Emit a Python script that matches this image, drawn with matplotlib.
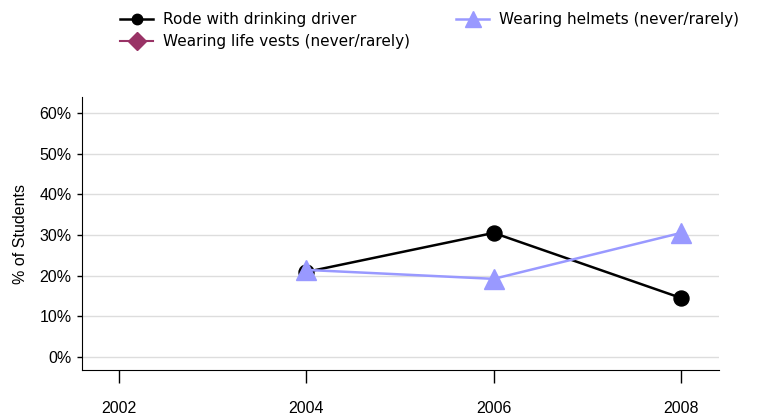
import matplotlib
matplotlib.use("Agg")
import matplotlib.pyplot as plt
import numpy as np

years = [2002, 2004, 2006, 2008]
rode_drinking = [np.nan, 20.9, 30.5, 14.5]
helmets = [np.nan, 21.4, 19.2, 30.5]
life_vests = [np.nan, np.nan, np.nan, np.nan]
yticks = [0, 10, 20, 30, 40, 50, 60]

fig = plt.figure(figsize=(7.58, 4.18), dpi=100)
ax = fig.add_axes([82/758, 1-370/418, (719-82)/758, (370-97)/418])

ax.plot(years, rode_drinking, color="black", lw=1.8, marker="o", ms=10.8,
        label="Rode with drinking driver", zorder=3)
ax.plot(years, life_vests, color="#993366", lw=1.5, marker="D", ms=8,
        label="Wearing life vests (never/rarely)", zorder=3)
ax.plot(years, helmets, color="#9999FF", lw=1.8, marker="^", ms=14,
        label="Wearing helmets (never/rarely)", zorder=4)

ax.set_xlim(2001.605, 2008.405)
ax.set_ylim(-3.2, 63.9)
ax.set_yticks(yticks)
ax.set_yticklabels([f"{v}%" for v in yticks], family="Liberation Sans", fontsize=11.5)
ax.set_xticks(years)
ax.set_xticklabels([str(y) for y in years], family="Liberation Sans", fontsize=11.5)
ax.tick_params(axis="x", length=9.4, pad=13, width=1)
ax.tick_params(axis="y", length=3.6, width=1, pad=4)
ax.grid(axis="y", color="#dddddd", lw=1)
ax.set_axisbelow(True)
for s in ["top", "right"]:
    ax.spines[s].set_visible(False)
ax.set_ylabel("% of Students", family="Liberation Sans", fontsize=11.5, labelpad=8)

handles, labels = ax.get_legend_handles_labels()
leg = fig.legend(handles, labels,
                 loc="upper left", bbox_to_anchor=(120/758, 1-12/418), ncol=2,
                 frameon=False, prop={"family": "DejaVu Sans", "size": 11},
                 handlelength=2.16, handletextpad=0.65, columnspacing=3.03,
                 labelspacing=0.45, borderpad=0, borderaxespad=0)
for h, s in zip(leg.legend_handles, [7.5, 9, 12]):
    h.set_markersize(s)

fig.savefig("out.png", dpi=100)
